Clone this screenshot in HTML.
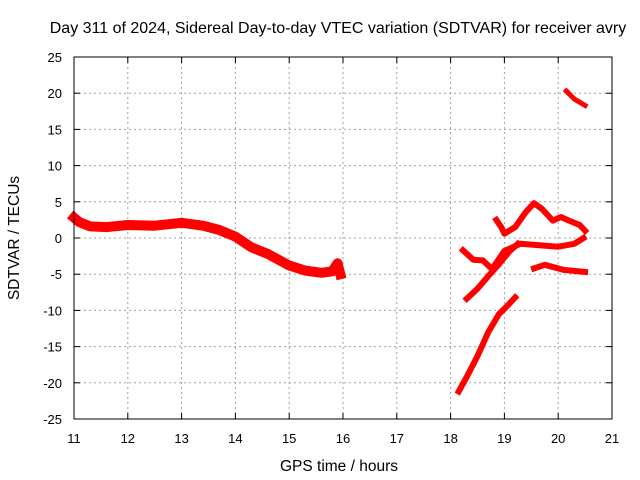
<!DOCTYPE html>
<html><head><meta charset="utf-8"><style>
body{margin:0;background:#fff;}
svg{display:block;font-family:"Liberation Sans",sans-serif;font-size:13px;}
</style></head><body>
<svg id="chart" width="640" height="480">
<rect x="0" y="0" width="640" height="480" fill="#fff"/>
<text x="338" y="33" text-anchor="middle" font-size="16">Day 311 of 2024, Sidereal Day-to-day VTEC variation (SDTVAR) for receiver avry</text>
<g id="grid"></g><g id="marks"></g><g id="axes"></g>
<text x="339" y="471" text-anchor="middle" font-size="15.5">GPS time / hours</text>
<text transform="translate(19,238) rotate(-90)" text-anchor="middle" font-size="15.5">SDTVAR / TECUs</text>
</svg>
<script>
const xTicks=[11,12,13,14,15,16,17,18,19,20,21];
const yTicks=[25,20,15,10,5,0,-5,-10,-15,-20,-25];
const mainHours=[11.0,11.1,11.3,11.6,12.0,12.5,13.0,13.4,13.7,14.0,14.3,14.6,15.0,15.3,15.6,15.8,15.9,15.95];
const mainValues=[2.8,2.2,1.6,1.5,1.8,1.7,2.1,1.7,1.1,0.2,-1.3,-2.2,-3.8,-4.5,-4.8,-4.6,-3.5,-5.0];
const topHours=[20.15,20.3,20.5];
const topValues=[20.3,19.2,18.3];
const upperHours=[18.85,18.95,19.0,19.2,19.4,19.55,19.7,19.9,20.05,20.2,20.4,20.5];
const upperValues=[2.5,1.4,0.6,1.5,3.6,4.8,4.0,2.4,2.9,2.4,1.8,1.0];
const midHours=[18.23,18.42,18.6,18.77,19.0,19.3,19.65,20.0,20.3,20.47];
const midValues=[-1.7,-3.0,-3.1,-4.3,-1.8,-0.8,-1.0,-1.2,-0.8,0.0];
const lowHours=[18.3,18.5,18.73,18.9,19.1,19.25];
const lowValues=[-8.4,-7.0,-5.0,-3.6,-1.8,-0.8];
const dipHours=[19.55,19.75,20.1,20.5];
const dipValues=[-4.2,-3.7,-4.4,-4.7];
const steepHours=[18.15,18.3,18.5,18.7,18.9,19.05,19.2];
const steepValues=[-21.2,-19.2,-16.3,-13.0,-10.5,-9.4,-8.2];
const NS='http://www.w3.org/2000/svg';
const X=h=>74+(h-11)*53.8;
const Y=v=>238-v*7.24;
function mk(t,a,p){const e=document.createElementNS(NS,t);for(const k in a)e.setAttribute(k,a[k]);p.appendChild(e);return e;}
const grid=document.getElementById('grid'),axes=document.getElementById('axes'),marks=document.getElementById('marks');
xTicks.forEach(t=>{
  const x=X(t);
  if(t>11&&t<21){const g=mk('line',{x1:x,x2:x,y1:57,y2:419,stroke:'#a0a0a0','stroke-dasharray':'2,3'},grid);
  
  }
  mk('line',{x1:x,x2:x,y1:419,y2:413,stroke:'#000'},axes);
  mk('line',{x1:x,x2:x,y1:57,y2:63,stroke:'#000'},axes);
  const tx=mk('text',{x:x,y:443,'text-anchor':'middle'},axes);tx.textContent=t;
  
  
});
yTicks.forEach(t=>{
  const y=Y(t);
  if(t<25&&t>-25){const g=mk('line',{x1:74,x2:612,y1:y,y2:y,stroke:'#a0a0a0','stroke-dasharray':'2,3'},grid);
  
  }
  mk('line',{x1:74,x2:80,y1:y,y2:y,stroke:'#000'},axes);
  mk('line',{x1:612,x2:606,y1:y,y2:y,stroke:'#000'},axes);
  const tx=mk('text',{x:62,y:y+5,'text-anchor':'end'},axes);tx.textContent=t;
  
  
});
const fr=mk('rect',{x:74,y:57,width:538,height:362,fill:'none',stroke:'#000'},axes);


function series(hs,vs,name,w){
  const pts=hs.map((h,i)=>X(h).toFixed(1)+','+Y(vs[i]).toFixed(1)).join(' ');
  const p=mk('polyline',{points:pts,fill:'none',stroke:'#f00','stroke-width':w,'stroke-linejoin':'round','stroke-linecap':'square'},marks);
  
  
}
series(mainHours,mainValues,'series-main',10);
series(topHours,topValues,'series-top',5);
series(upperHours,upperValues,'series-upper',6);
series(midHours,midValues,'series-middle',6);
series(lowHours,lowValues,'series-low',6);
series(dipHours,dipValues,'series-dip',6);
series(steepHours,steepValues,'series-steep',6);
</script>
</body></html>
